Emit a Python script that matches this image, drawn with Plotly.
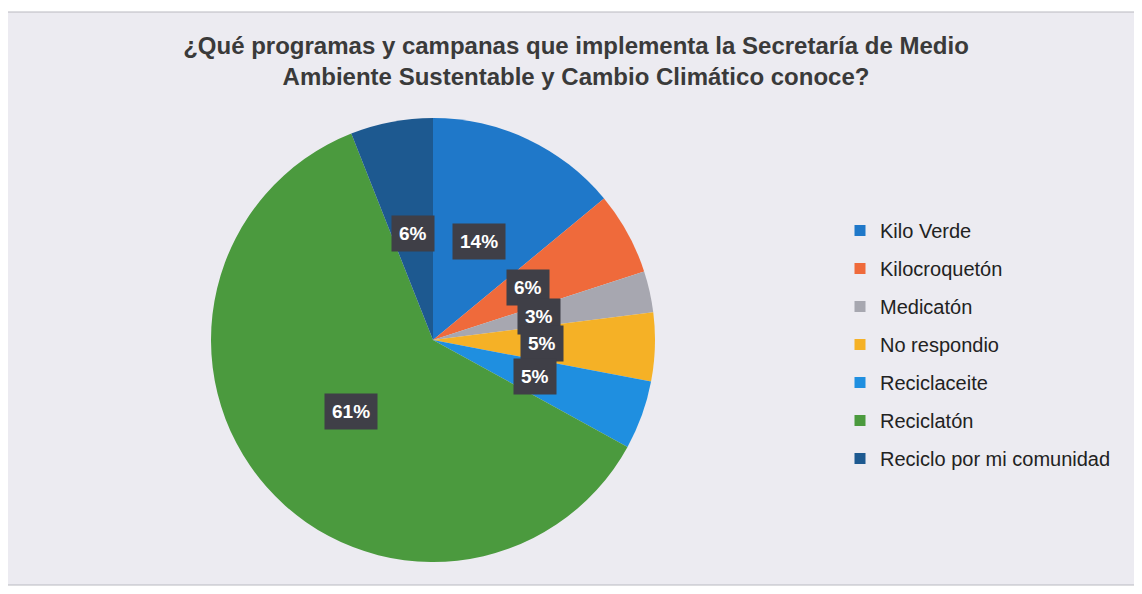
import math
import plotly.graph_objects as go

# ---- data ----
categories = ["Kilo Verde", "Kilocroquetón", "Medicatón", "No respondio",
              "Reciclaceite", "Reciclatón", "Reciclo por mi comunidad"]
percentages = [14, 6, 3, 5, 5, 61, 6]
colors = ["#1f78c9", "#ef6a3b", "#a7a7b0", "#f5b126", "#1f8fe0", "#4b9a3e", "#1d5990"]

OFF = 8                       # page body margin
W, H = 1142 - 2 * OFF, 594 - 2 * OFF
CX, CY, R = 433 - OFF, 340 - OFF, 222   # pie centre / radius in figure pixels
dom_x = [(CX - R) / W, (CX + R) / W]
dom_y = [(H - CY - R) / H, (H - CY + R) / H]

fig = go.Figure()
fig.add_trace(go.Pie(
    labels=categories, values=percentages, sort=False, direction="clockwise",
    rotation=0, marker=dict(colors=colors, line=dict(width=0)),
    textinfo="none", hoverinfo="label+percent", showlegend=False,
    domain=dict(x=dom_x, y=dom_y),
))

# legend entries
for name, c in zip(categories, colors):
    fig.add_trace(go.Scatter(x=[None], y=[None], mode="markers", name=name,
                             legendgroup=name,
                             marker=dict(symbol="square", size=11, color=c)))

# data labels placed from cumulative angles
total = sum(percentages)
cum = 0
annotations = []
for v in percentages:
    mid = (cum + v / 2) / total * 2 * math.pi
    cum += v
    px = CX + 0.49 * R * math.sin(mid)
    py = CY - 0.49 * R * math.cos(mid)
    annotations.append(dict(
        x=px / W, y=(H - py) / H, xref="paper", yref="paper",
        xanchor="center", yanchor="middle",
        text=f"<b>{round(v / total * 100)}%</b>", showarrow=False,
        font=dict(family="Liberation Sans, Arial", size=19, color="white"),
        bgcolor="#3f3f47", borderpad=7,
    ))

fig.update_layout(
    width=W, height=H,
    margin=dict(l=0, r=0, t=0, b=0),
    paper_bgcolor="white", plot_bgcolor="rgba(0,0,0,0)",
    xaxis=dict(visible=False), yaxis=dict(visible=False),
    title=dict(
        text="<b>¿Qué programas y campanas que implementa la Secretaría de Medio<br>"
             "Ambiente Sustentable y Cambio Climático conoce?</b>",
        x=(576 - OFF) / W, xanchor="center", y=1 - 46 / H, yanchor="top",
        font=dict(family="Liberation Sans, Arial", size=24, color="#3a3a3a"),
    ),
    legend=dict(x=832 / W, xanchor="left", y=1 - 203 / H, yanchor="top",
                font=dict(family="Liberation Sans, Arial", size=20, color="#222222"),
                tracegroupgap=9, bgcolor="rgba(0,0,0,0)"),
    shapes=[dict(type="rect", xref="paper", yref="paper",
                 x0=(6 - OFF) / W, x1=(1136 - OFF) / W,
                 y0=1 - (585 - OFF) / H, y1=1 - (12 - OFF) / H,
                 fillcolor="#ecebf1", line=dict(color="#b9b9c0", width=1),
                 layer="below")],
    annotations=annotations,
)

fig.write_html("out.html")
